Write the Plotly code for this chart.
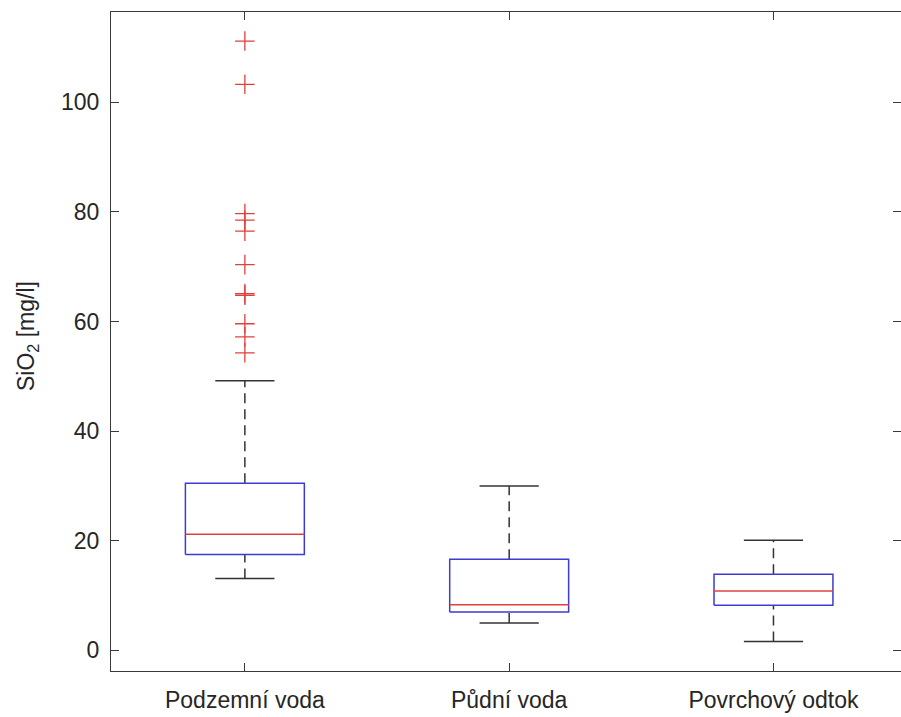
import plotly.graph_objects as go

# SiO2 concentrations by water type: box-plot statistics
categories = ["Podzemní voda", "Půdní voda", "Povrchový odtok"]
positions = [1, 2, 3]
whisker_low = [13.1, 5.0, 1.6]
q1 = [17.5, 7.0, 8.2]
median = [21.2, 8.3, 10.8]
q3 = [30.5, 16.6, 13.9]
whisker_high = [49.2, 30.0, 20.1]
outliers = [
    [111.2, 103.3, 79.7, 78.5, 76.5, 70.4, 65.1, 64.8, 59.6, 57.2, 54.3],
    [],
    [],
]

y_ticks = [0, 20, 40, 60, 80, 100]

BOX_HALF = 0.225
CAP_HALF = 0.112
BLUE = "#3c3cd2"
RED = "#e0403c"
DARK = "#333333"
AXIS = "#3a3a3a"
FONT = "Arial, Liberation Sans, Helvetica, sans-serif"

fig = go.Figure()

for x, lo, a, m, b, hi, out in zip(positions, whisker_low, q1, median, q3,
                                   whisker_high, outliers):
    # dashed whiskers
    fig.add_trace(go.Scatter(x=[x, x, None, x, x], y=[b, hi, None, lo, a],
                             mode="lines",
                             line=dict(color=DARK, width=1.5, dash="10px,6px"),
                             hoverinfo="skip", showlegend=False))
    # whisker caps
    fig.add_trace(go.Scatter(x=[x - CAP_HALF, x + CAP_HALF, None, x - CAP_HALF, x + CAP_HALF],
                             y=[hi, hi, None, lo, lo], mode="lines",
                             line=dict(color=DARK, width=1.5),
                             hoverinfo="skip", showlegend=False))
    # box
    fig.add_trace(go.Scatter(x=[x - BOX_HALF, x + BOX_HALF, x + BOX_HALF, x - BOX_HALF, x - BOX_HALF],
                             y=[a, a, b, b, a], mode="lines",
                             line=dict(color=BLUE, width=1.5),
                             hoverinfo="skip", showlegend=False))
    # median
    fig.add_trace(go.Scatter(x=[x - BOX_HALF, x + BOX_HALF], y=[m, m], mode="lines",
                             line=dict(color=RED, width=1.5),
                             hoverinfo="skip", showlegend=False))
    # outliers
    if out:
        fig.add_trace(go.Scatter(x=[x] * len(out), y=out, mode="markers",
                                 marker=dict(symbol="cross-thin", size=14,
                                             line=dict(color=RED, width=1.3)),
                                 showlegend=False))

fig.update_layout(
    width=901, height=717, autosize=False,
    margin=dict(l=111, r=0, t=12, b=46, pad=0),
    plot_bgcolor="white", paper_bgcolor="white",
    font=dict(family=FONT, size=23, color="#262626"),
    xaxis=dict(
        range=[0.4935, 3.4825],
        tickmode="array", tickvals=positions, ticktext=categories,
        ticks="inside", ticklen=8, tickcolor=AXIS, tickwidth=1,
        showline=True, linecolor=AXIS, linewidth=1.2, mirror="ticks",
        showgrid=False, zeroline=False, automargin=False,
        ticklabelstandoff=8,
    ),
    yaxis=dict(
        range=[-3.78, 116.5],
        tickmode="array", tickvals=y_ticks,
        ticks="inside", ticklen=8, tickcolor=AXIS, tickwidth=1,
        showline=True, linecolor=AXIS, linewidth=1.2, mirror="ticks",
        showgrid=False, zeroline=False, automargin=False,
        ticklabelstandoff=6,
    ),
    annotations=[dict(
        text="SiO<sub>2</sub> [mg/l]", textangle=-90,
        xref="paper", yref="paper", x=(27 - 111) / 790, y=(671 - 336) / 659,
        xanchor="center", yanchor="middle", showarrow=False,
        font=dict(family=FONT, size=23, color="#262626"),
    )],
)

fig.write_html("out.html", config={"responsive": False, "displayModeBar": False})
